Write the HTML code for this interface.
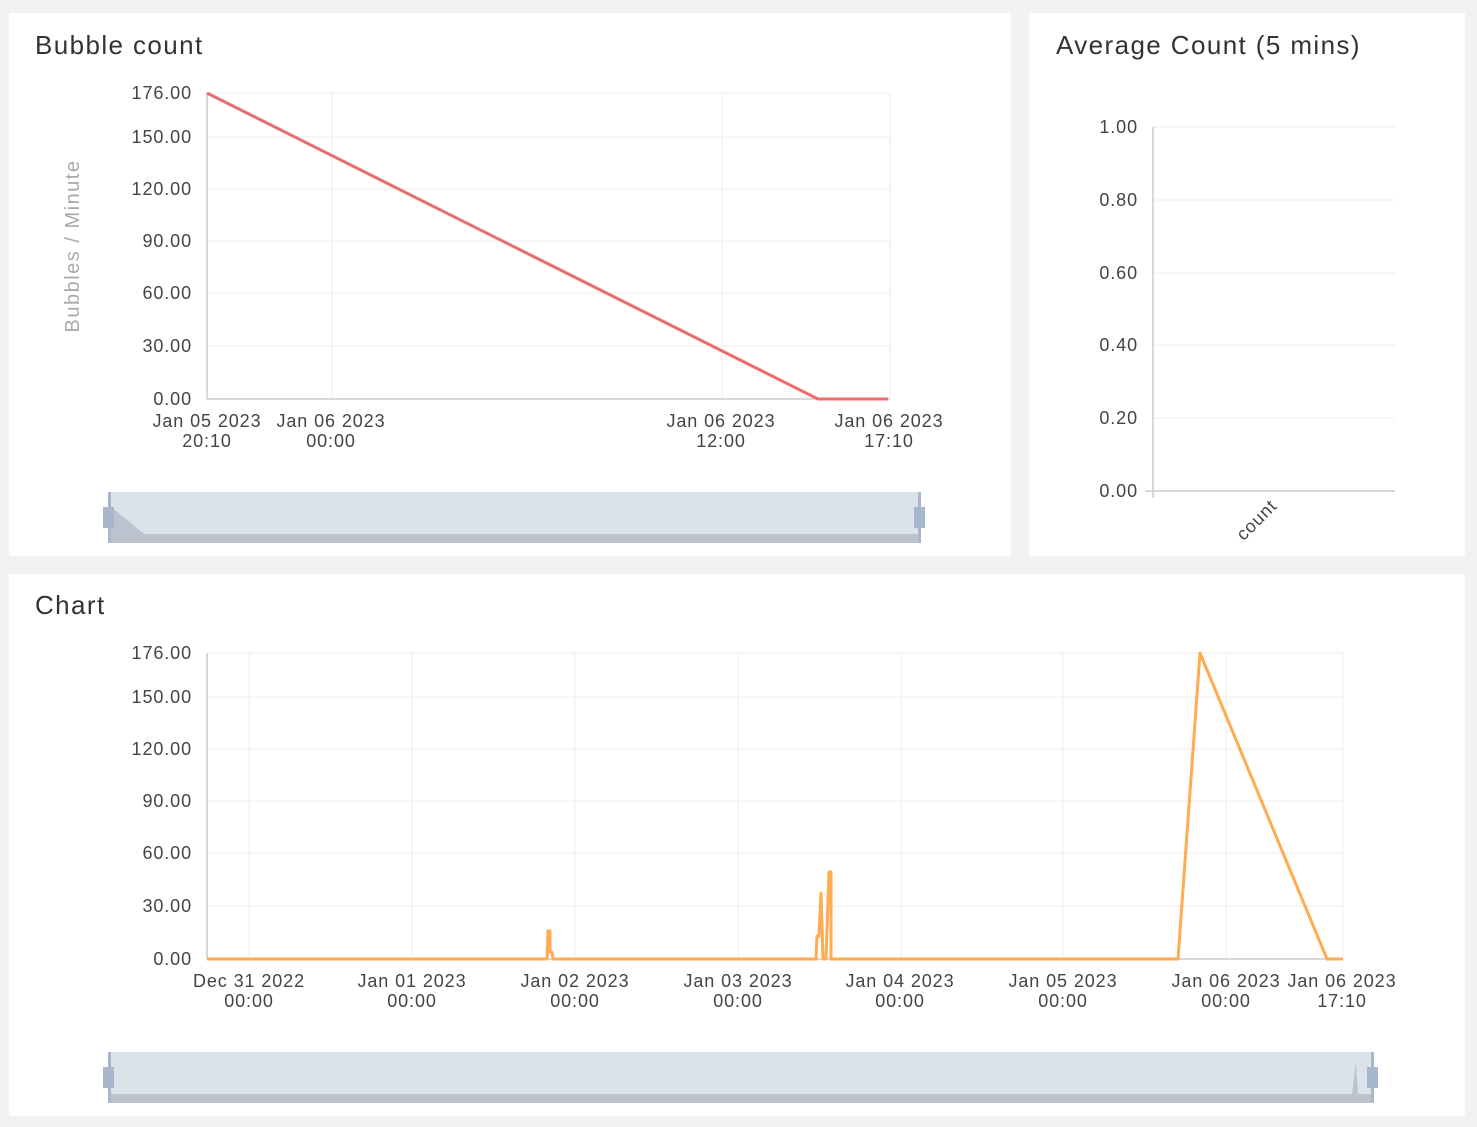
<!DOCTYPE html>
<html><head><meta charset="utf-8"><style>
html,body{margin:0;padding:0;background:#f2f2f2}
svg{display:block;font-family:"Liberation Sans",sans-serif}
.t{font-size:26px;fill:#333;letter-spacing:1.4px}
.l{font-size:18px;fill:#444;letter-spacing:0.9px}
.g{stroke:#ececec;stroke-width:1;fill:none}
.ax{stroke:#ccc;stroke-width:1.5;fill:none}
</style></head><body>
<svg width="1477" height="1127" viewBox="0 0 1477 1127">
<rect x="9" y="13" width="1002" height="543" fill="#fff"/>
<rect x="1029" y="13" width="436" height="543" fill="#fff"/>
<rect x="9" y="574" width="1456" height="542" fill="#fff"/>
<text class="t" x="35" y="54">Bubble count</text>
<text class="t" x="1056" y="54">Average Count (5 mins)</text>
<text class="t" x="35" y="614">Chart</text>

<!-- chart1 -->
<g class="g">
<line x1="207" y1="93" x2="890" y2="93"/><line x1="207" y1="137" x2="890" y2="137"/>
<line x1="207" y1="189" x2="890" y2="189"/><line x1="207" y1="241" x2="890" y2="241"/>
<line x1="207" y1="293" x2="890" y2="293"/><line x1="207" y1="346" x2="890" y2="346"/>
<line x1="332" y1="93" x2="332" y2="399"/><line x1="722" y1="93" x2="722" y2="399"/><line x1="890" y1="93" x2="890" y2="399"/>
</g>
<line class="ax" x1="207" y1="93" x2="207" y2="399"/><line class="ax" x1="207" y1="399" x2="890" y2="399"/>
<g class="l" text-anchor="end">
<text x="192" y="99">176.00</text><text x="192" y="143">150.00</text><text x="192" y="195">120.00</text>
<text x="192" y="247">90.00</text><text x="192" y="299">60.00</text><text x="192" y="352">30.00</text><text x="192" y="405">0.00</text>
</g>
<g class="l" text-anchor="middle">
<text x="207" y="427">Jan 05 2023</text><text x="207" y="447">20:10</text>
<text x="331" y="427">Jan 06 2023</text><text x="331" y="447">00:00</text>
<text x="721" y="427">Jan 06 2023</text><text x="721" y="447">12:00</text>
<text x="889" y="427">Jan 06 2023</text><text x="889" y="447">17:10</text>
</g>
<text class="l" transform="translate(79,246) rotate(-90)" text-anchor="middle" style="fill:#aaa;font-size:20px;letter-spacing:1.5px">Bubbles / Minute</text>
<polyline points="207,93 818,399 888,399" fill="none" stroke="#ef6b6b" stroke-width="3"/>
<rect x="109" y="492" width="811" height="51" fill="#dce2ea"/>
<polygon points="109,505 144,534 920,534 920,543 109,543" fill="#bcc3ce"/>
<rect x="108" y="492" width="3" height="51" fill="#a8b7cc"/><rect x="918" y="492" width="3" height="51" fill="#a8b7cc"/>
<rect x="103" y="507" width="11" height="21" fill="#a8b7cc"/><rect x="914" y="507" width="11" height="21" fill="#a8b7cc"/>

<!-- chart2 -->
<g class="g">
<line x1="1153" y1="127" x2="1395" y2="127"/><line x1="1153" y1="200" x2="1395" y2="200"/>
<line x1="1153" y1="273" x2="1395" y2="273"/><line x1="1153" y1="345" x2="1395" y2="345"/>
<line x1="1153" y1="418" x2="1395" y2="418"/>
</g>
<line class="ax" x1="1153" y1="127" x2="1153" y2="498"/><line class="ax" x1="1145" y1="491" x2="1395" y2="491"/>
<g class="l" text-anchor="end">
<text x="1138" y="133">1.00</text><text x="1138" y="206">0.80</text><text x="1138" y="279">0.60</text>
<text x="1138" y="351">0.40</text><text x="1138" y="424">0.20</text><text x="1138" y="497">0.00</text>
</g>
<text class="l" transform="translate(1278,507) rotate(-45)" text-anchor="end">count</text>

<!-- chart3 -->
<g class="g">
<line x1="207" y1="653" x2="1343" y2="653"/><line x1="207" y1="697" x2="1343" y2="697"/>
<line x1="207" y1="749" x2="1343" y2="749"/><line x1="207" y1="801" x2="1343" y2="801"/>
<line x1="207" y1="853" x2="1343" y2="853"/><line x1="207" y1="906" x2="1343" y2="906"/>
<line x1="249" y1="653" x2="249" y2="959"/><line x1="412" y1="653" x2="412" y2="959"/>
<line x1="575" y1="653" x2="575" y2="959"/><line x1="738" y1="653" x2="738" y2="959"/>
<line x1="901" y1="653" x2="901" y2="959"/><line x1="1063" y1="653" x2="1063" y2="959"/>
<line x1="1226" y1="653" x2="1226" y2="959"/><line x1="1343" y1="653" x2="1343" y2="959"/>
</g>
<line class="ax" x1="207" y1="653" x2="207" y2="959"/><line class="ax" x1="207" y1="959" x2="1343" y2="959"/>
<g class="l" text-anchor="end">
<text x="192" y="659">176.00</text><text x="192" y="703">150.00</text><text x="192" y="755">120.00</text>
<text x="192" y="807">90.00</text><text x="192" y="859">60.00</text><text x="192" y="912">30.00</text><text x="192" y="965">0.00</text>
</g>
<g class="l" text-anchor="middle">
<text x="249" y="987">Dec 31 2022</text><text x="249" y="1007">00:00</text>
<text x="412" y="987">Jan 01 2023</text><text x="412" y="1007">00:00</text>
<text x="575" y="987">Jan 02 2023</text><text x="575" y="1007">00:00</text>
<text x="738" y="987">Jan 03 2023</text><text x="738" y="1007">00:00</text>
<text x="900" y="987">Jan 04 2023</text><text x="900" y="1007">00:00</text>
<text x="1063" y="987">Jan 05 2023</text><text x="1063" y="1007">00:00</text>
<text x="1226" y="987">Jan 06 2023</text><text x="1226" y="1007">00:00</text>
<text x="1342" y="987">Jan 06 2023</text><text x="1342" y="1007">17:10</text>
</g>
<polyline points="207,959 547,959 548,931 550,931 550,952 552,952 553,959 816,959 817,936 819,936 821,893 823,959 826,959 829,872 831,872 831,959 1178,959 1200,653 1327,959 1343,959" fill="none" stroke="#ffab52" stroke-width="3" stroke-linejoin="round"/>
<rect x="109" y="1052" width="1264" height="51" fill="#dce2ea"/>
<rect x="109" y="1094" width="1264" height="9" fill="#bcc3ce"/>
<polygon points="1352,1094 1356,1062 1358,1094" fill="#bcc3ce"/>
<rect x="108" y="1052" width="3" height="51" fill="#a8b7cc"/><rect x="1371" y="1052" width="3" height="51" fill="#a8b7cc"/>
<rect x="103" y="1067" width="11" height="21" fill="#a8b7cc"/><rect x="1367" y="1067" width="11" height="21" fill="#a8b7cc"/>
</svg>
</body></html>
